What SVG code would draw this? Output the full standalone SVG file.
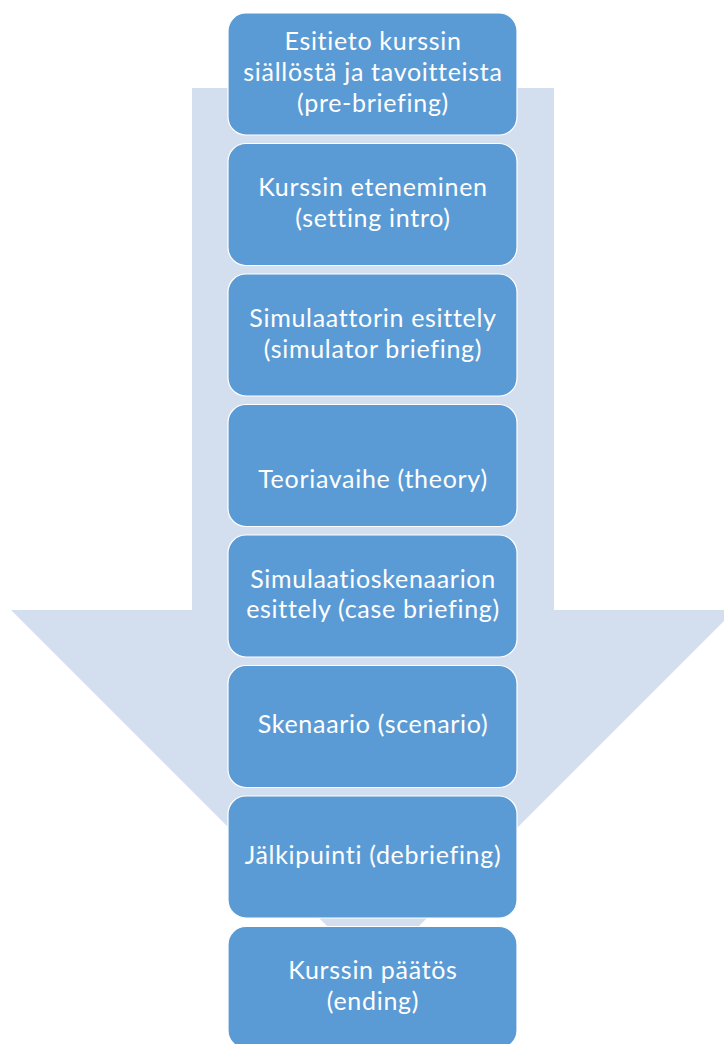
<svg xmlns="http://www.w3.org/2000/svg" width="724" height="1044" viewBox="0 0 724 1044">
<style>
.box{fill:#5B9BD5;stroke:#FFFFFF;stroke-width:1.2}
.t{font-family:Lato,"Open Sans","Liberation Sans",sans-serif;font-size:25px;letter-spacing:0.7px;font-variant-ligatures:none;fill:#FFFFFF;text-anchor:middle}
</style>
<rect width="724" height="1044" fill="#FFFFFF"/>
<g id="arrow">
<path d="M192,88 H554 V610 H735 L373,972 L11,610 H192 Z" fill="#D3DEEF"/>
</g>
<g id="node1"><rect class="box" x="228" y="13" width="289" height="122" rx="18"/>
<text class="t" x="373" y="50">Esitieto kurssin</text>
<text class="t" x="373" y="81">siällöstä ja tavoitteista</text>
<text class="t" x="373" y="111.5">(pre-briefing)</text></g>
<g id="node2"><rect class="box" x="228" y="143.5" width="289" height="122" rx="18"/>
<text class="t" x="373" y="196">Kurssin eteneminen</text>
<text class="t" x="373" y="226.5">(setting intro)</text></g>
<g id="node3"><rect class="box" x="228" y="274" width="289" height="122" rx="18"/>
<text class="t" x="373" y="327">Simulaattorin esittely</text>
<text class="t" x="373" y="357.5">(simulator briefing)</text></g>
<g id="node4"><rect class="box" x="228" y="404.5" width="289" height="122" rx="18"/>
<text class="t" x="373" y="488">Teoriavaihe (theory)</text></g>
<g id="node5"><rect class="box" x="228" y="535" width="289" height="122" rx="18"/>
<text class="t" x="373" y="587.5">Simulaatioskenaarion</text>
<text class="t" x="373" y="618">esittely (case briefing)</text></g>
<g id="node6"><rect class="box" x="228" y="665.5" width="289" height="122" rx="18"/>
<text class="t" x="373" y="733">Skenaario (scenario)</text></g>
<g id="node7"><rect class="box" x="228" y="796" width="289" height="122" rx="18"/>
<text class="t" x="373" y="863.5">Jälkipuinti (debriefing)</text></g>
<g id="node8"><rect class="box" x="228" y="926.5" width="289" height="122" rx="18"/>
<text class="t" x="373" y="979">Kurssin päätös</text>
<text class="t" x="373" y="1009.5">(ending)</text></g>
<g id="connectors"></g>
</svg>
